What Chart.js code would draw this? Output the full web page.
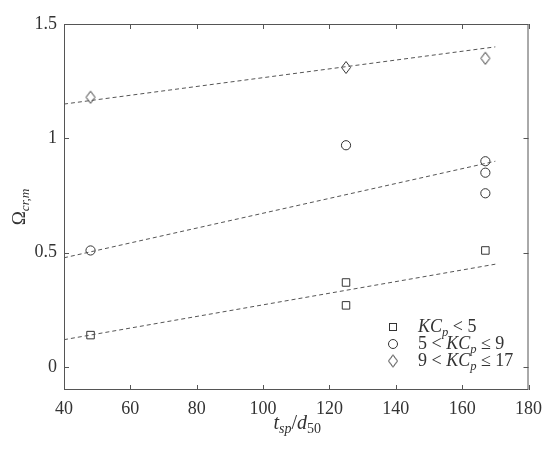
<!DOCTYPE html>
<html>
<head>
<meta charset="utf-8">
<script src="https://cdn.jsdelivr.net/npm/chart.js@4"></script>
<style>
  body { margin: 0; background: #fff; }
  #wrap { width: 550px; height: 452px; }
</style>
</head>
<body>
<div id="wrap"><canvas id="chart" width="550" height="452"></canvas></div>
<script>
// tick labels
const xTicks = [40, 60, 80, 100, 120, 140, 160, 180];
const yTicks = [0, 0.5, 1, 1.5];

// KC_p < 5
const squaresX = [48, 125, 125, 167];
const squaresY = [0.14, 0.37, 0.27, 0.51];
// 5 < KC_p <= 9
const circlesX = [48, 125, 167, 167, 167];
const circlesY = [0.51, 0.97, 0.90, 0.85, 0.76];
// 9 < KC_p <= 17
const diamondsX = [48, 125, 167];
const diamondsY = [1.18, 1.31, 1.35];

// dashed fit lines
const fitX = [40, 170];
const fitLow = [0.12, 0.45];
const fitMid = [0.478, 0.90];
const fitHigh = [1.15, 1.40];

const ink = '#333333';
const axisCol = '#555555';
const markCol = '#333333';
const serif = '"Liberation Serif", "Times New Roman", serif';

function pts(xs, ys) {
  return xs.map((x, i) => ({ x: x, y: ys[i] }));
}

// tall diamond marker
function makeDiamond() {
  const c = document.createElement('canvas');
  c.width = 12; c.height = 15;
  const g = c.getContext('2d');
  g.strokeStyle = '#333';
  g.lineWidth = 1;
  g.beginPath();
  g.moveTo(6, 1.5); g.lineTo(10.5, 7.5); g.lineTo(6, 13.5); g.lineTo(1.5, 7.5);
  g.closePath();
  g.stroke();
  return c;
}
const diamond = makeDiamond();

function fitLine(ys) {
  return {
    type: 'line',
    data: pts(fitX, ys),
    borderColor: '#555',
    borderWidth: 1,
    borderDash: [4, 3],
    pointRadius: 0,
    fill: false
  };
}

// draw text with italic / subscript runs
function drawRuns(ctx, runs, x, y, size) {
  let cx = x;
  runs.forEach(r => {
    const fs = r.sub ? size * 0.7 : size;
    ctx.font = (r.it ? 'italic ' : '') + fs + 'px ' + serif;
    ctx.fillText(r.t, cx, r.sub ? y + size * 0.22 : y);
    cx += ctx.measureText(r.t).width;
  });
  return cx - x;
}
function runsWidth(ctx, runs, size) {
  let w = 0;
  runs.forEach(r => {
    const fs = r.sub ? size * 0.7 : size;
    ctx.font = (r.it ? 'italic ' : '') + fs + 'px ' + serif;
    w += ctx.measureText(r.t).width;
  });
  return w;
}

const decorations = {
  id: 'decorations',
  afterDraw(chart) {
    const ctx = chart.ctx;
    const a = chart.chartArea;
    const xs = chart.scales.x, ys = chart.scales.y;
    ctx.save();
    // box
    ctx.strokeStyle = axisCol;
    ctx.lineWidth = 1;
    ctx.strokeRect(a.left + 0.5, a.top + 0.5, a.right - a.left - 1, a.bottom - a.top - 1);
    // inward ticks on all sides
    ctx.beginPath();
    xTicks.forEach(v => {
      const px = Math.round(xs.getPixelForValue(v)) + 0.5;
      ctx.moveTo(px, a.bottom); ctx.lineTo(px, a.bottom - 5);
      ctx.moveTo(px, a.top); ctx.lineTo(px, a.top + 5);
    });
    yTicks.forEach(v => {
      const py = Math.round(ys.getPixelForValue(v)) + 0.5;
      ctx.moveTo(a.left, py); ctx.lineTo(a.left + 5, py);
      ctx.moveTo(a.right, py); ctx.lineTo(a.right - 5, py);
    });
    ctx.stroke();

    ctx.fillStyle = ink;
    ctx.textBaseline = 'alphabetic';
    // x title
    const xr = [{ t: 't', it: true }, { t: 'sp', it: true, sub: true }, { t: '/', it: false }, { t: 'd', it: true }, { t: '50', sub: true }];
    const xw = runsWidth(ctx, xr, 20);
    drawRuns(ctx, xr, (a.left + a.right) / 2 - xw / 2 + 1, 429, 20);
    // y title rotated
    const yr = [{ t: 'Ω', it: false }, { t: 'cr,m', it: true, sub: true }];
    const yw = runsWidth(ctx, yr, 19);
    ctx.save();
    ctx.translate(25, 207);
    ctx.rotate(-Math.PI / 2);
    drawRuns(ctx, yr, -yw / 2, 0, 19);
    ctx.restore();

    // legend
    const lx = 393, rows = [327, 344, 361];
    ctx.strokeStyle = markCol;
    ctx.lineWidth = 1;
    ctx.strokeRect(lx - 3.5, rows[0] - 3.5, 7, 7);
    ctx.beginPath(); ctx.arc(lx, rows[1], 4.5, 0, Math.PI * 2); ctx.stroke();
    ctx.drawImage(diamond, lx - 6, rows[2] - 7.5);
    const labels = [
      [{ t: 'KC', it: true }, { t: 'p', it: true, sub: true }, { t: ' < 5' }],
      [{ t: '5 < ' }, { t: 'KC', it: true }, { t: 'p', it: true, sub: true }, { t: ' ≤ 9' }],
      [{ t: '9 < ' }, { t: 'KC', it: true }, { t: 'p', it: true, sub: true }, { t: ' ≤ 17' }]
    ];
    labels.forEach((r, i) => drawRuns(ctx, r, 418, rows[i] + 5, 18));
    ctx.restore();
  }
};

new Chart(document.getElementById('chart'), {
  type: 'scatter',
  data: {
    datasets: [
      fitLine(fitLow),
      fitLine(fitMid),
      fitLine(fitHigh),
      {
        data: pts(squaresX, squaresY),
        pointStyle: 'rect', pointRadius: 5.3,
        borderColor: markCol, backgroundColor: 'rgba(0,0,0,0)', borderWidth: 1
      },
      {
        data: pts(circlesX, circlesY),
        pointStyle: 'circle', pointRadius: 4.6,
        borderColor: markCol, backgroundColor: 'rgba(0,0,0,0)', borderWidth: 1
      },
      {
        data: pts(diamondsX, diamondsY),
        pointStyle: diamond, pointRadius: 6
      }
    ]
  },
  options: {
    responsive: false,
    animation: false,
    layout: { padding: { left: 0, right: 20, top: 24, bottom: 0 } },
    plugins: { legend: { display: false }, tooltip: { enabled: false } },
    scales: {
      x: {
        type: 'linear', min: 40, max: 180,
        afterBuildTicks: s => { s.ticks = xTicks.map(v => ({ value: v })); },
        afterFit: s => { s.height = 62; },
        grid: { display: false, drawTicks: false },
        border: { display: false },
        ticks: { color: ink, padding: 8, font: { family: serif, size: 18 }, callback: v => String(v) }
      },
      y: {
        type: 'linear', min: -0.1, max: 1.5,
        afterBuildTicks: s => { s.ticks = yTicks.map(v => ({ value: v })); },
        afterFit: s => { s.width = 64; },
        grid: { display: false, drawTicks: false },
        border: { display: false },
        ticks: { color: ink, padding: 7, font: { family: serif, size: 18 }, callback: v => String(v) }
      }
    }
  },
  plugins: [decorations]
});
</script>
</body>
</html>
